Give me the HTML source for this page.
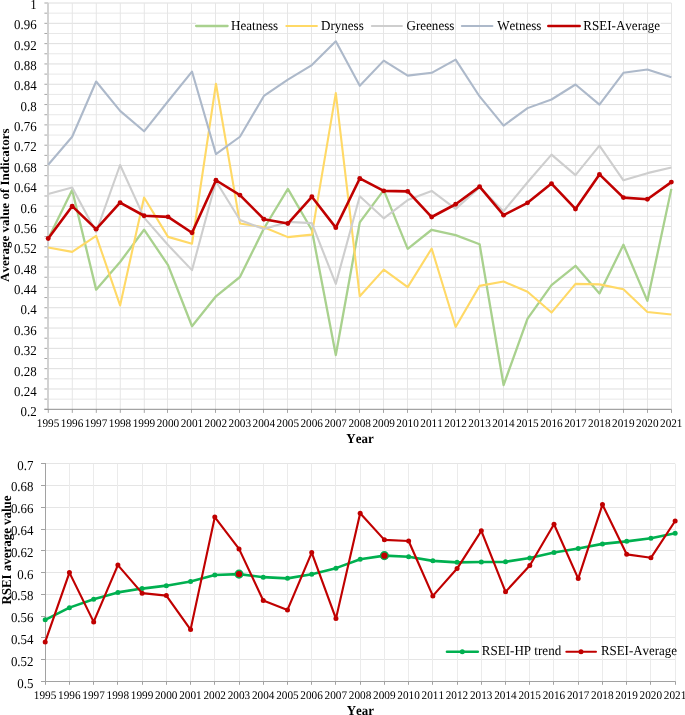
<!DOCTYPE html>
<html lang="en"><head><meta charset="utf-8"><title>RSEI indicators</title>
<style>
html,body{margin:0;padding:0;background:#fff;}
body{width:685px;height:715px;overflow:hidden;}
svg{display:block;}
text{font-family:"Liberation Serif",serif;fill:#000;text-rendering:geometricPrecision;font-kerning:none;}
.tk{font-size:13.6px;text-anchor:end;}
.xl{font-size:11.6px;text-anchor:middle;}
.lg{font-size:13.6px;}
.ttl{font-size:13.6px;font-weight:bold;text-anchor:middle;}
.maj{stroke:#dedede;stroke-width:1;}
.min{stroke:#e8e8e8;stroke-width:1;}
.vg{stroke:#e6e6e6;stroke-width:1;}
.ax{stroke:#a6a6a6;stroke-width:1;}
.axb{stroke:#a2a2a2;stroke-width:1;}
.majb{stroke:#e5e5e5;stroke-width:1;}
.vgb{stroke:#ebebeb;stroke-width:1;}
.ln{fill:none;stroke-linejoin:round;stroke-linecap:butt;}
</style></head><body>
<svg width="685" height="715" viewBox="0 0 685 715">
<rect width="685" height="715" fill="#fff"/>
<g id="top">
<line class="min" x1="48.2" x2="671.35" y1="399.14" y2="399.14"/>
<line class="maj" x1="48.2" x2="671.35" y1="388.99" y2="388.99"/>
<line class="min" x1="48.2" x2="671.35" y1="378.83" y2="378.83"/>
<line class="maj" x1="48.2" x2="671.35" y1="368.67" y2="368.67"/>
<line class="min" x1="48.2" x2="671.35" y1="358.51" y2="358.51"/>
<line class="maj" x1="48.2" x2="671.35" y1="348.35" y2="348.35"/>
<line class="min" x1="48.2" x2="671.35" y1="338.2" y2="338.2"/>
<line class="maj" x1="48.2" x2="671.35" y1="328.04" y2="328.04"/>
<line class="min" x1="48.2" x2="671.35" y1="317.88" y2="317.88"/>
<line class="maj" x1="48.2" x2="671.35" y1="307.72" y2="307.72"/>
<line class="min" x1="48.2" x2="671.35" y1="297.57" y2="297.57"/>
<line class="maj" x1="48.2" x2="671.35" y1="287.41" y2="287.41"/>
<line class="min" x1="48.2" x2="671.35" y1="277.25" y2="277.25"/>
<line class="maj" x1="48.2" x2="671.35" y1="267.1" y2="267.1"/>
<line class="min" x1="48.2" x2="671.35" y1="256.94" y2="256.94"/>
<line class="maj" x1="48.2" x2="671.35" y1="246.78" y2="246.78"/>
<line class="min" x1="48.2" x2="671.35" y1="236.62" y2="236.62"/>
<line class="maj" x1="48.2" x2="671.35" y1="226.46" y2="226.46"/>
<line class="min" x1="48.2" x2="671.35" y1="216.31" y2="216.31"/>
<line class="maj" x1="48.2" x2="671.35" y1="206.15" y2="206.15"/>
<line class="min" x1="48.2" x2="671.35" y1="195.99" y2="195.99"/>
<line class="maj" x1="48.2" x2="671.35" y1="185.83" y2="185.83"/>
<line class="min" x1="48.2" x2="671.35" y1="175.68" y2="175.68"/>
<line class="maj" x1="48.2" x2="671.35" y1="165.52" y2="165.52"/>
<line class="min" x1="48.2" x2="671.35" y1="155.36" y2="155.36"/>
<line class="maj" x1="48.2" x2="671.35" y1="145.21" y2="145.21"/>
<line class="min" x1="48.2" x2="671.35" y1="135.05" y2="135.05"/>
<line class="maj" x1="48.2" x2="671.35" y1="124.89" y2="124.89"/>
<line class="min" x1="48.2" x2="671.35" y1="114.73" y2="114.73"/>
<line class="maj" x1="48.2" x2="671.35" y1="104.57" y2="104.57"/>
<line class="min" x1="48.2" x2="671.35" y1="94.42" y2="94.42"/>
<line class="maj" x1="48.2" x2="671.35" y1="84.26" y2="84.26"/>
<line class="min" x1="48.2" x2="671.35" y1="74.1" y2="74.1"/>
<line class="maj" x1="48.2" x2="671.35" y1="63.94" y2="63.94"/>
<line class="min" x1="48.2" x2="671.35" y1="53.79" y2="53.79"/>
<line class="maj" x1="48.2" x2="671.35" y1="43.63" y2="43.63"/>
<line class="min" x1="48.2" x2="671.35" y1="33.47" y2="33.47"/>
<line class="maj" x1="48.2" x2="671.35" y1="23.32" y2="23.32"/>
<line class="min" x1="48.2" x2="671.35" y1="13.16" y2="13.16"/>
<line class="maj" x1="48.2" x2="671.35" y1="3" y2="3"/>
<rect x="196" y="15.5" width="464.5" height="16.5" fill="#fff"/>
<line class="vg" x1="72.3" x2="72.3" y1="3" y2="409.3"/>
<line class="vg" x1="96.3" x2="96.3" y1="3" y2="409.3"/>
<line class="vg" x1="120.3" x2="120.3" y1="3" y2="409.3"/>
<line class="vg" x1="144.3" x2="144.3" y1="3" y2="409.3"/>
<line class="vg" x1="167.5" x2="167.5" y1="3" y2="409.3"/>
<line class="vg" x1="191.5" x2="191.5" y1="3" y2="409.3"/>
<line class="vg" x1="215.5" x2="215.5" y1="3" y2="409.3"/>
<line class="vg" x1="239.5" x2="239.5" y1="3" y2="409.3"/>
<line class="vg" x1="263.5" x2="263.5" y1="3" y2="409.3"/>
<line class="vg" x1="287.5" x2="287.5" y1="3" y2="409.3"/>
<line class="vg" x1="311.5" x2="311.5" y1="3" y2="409.3"/>
<line class="vg" x1="335.5" x2="335.5" y1="3" y2="409.3"/>
<line class="vg" x1="359.5" x2="359.5" y1="3" y2="409.3"/>
<line class="vg" x1="383.5" x2="383.5" y1="3" y2="409.3"/>
<line class="vg" x1="407.5" x2="407.5" y1="3" y2="409.3"/>
<line class="vg" x1="431.5" x2="431.5" y1="3" y2="409.3"/>
<line class="vg" x1="455.5" x2="455.5" y1="3" y2="409.3"/>
<line class="vg" x1="479.5" x2="479.5" y1="3" y2="409.3"/>
<line class="vg" x1="503.5" x2="503.5" y1="3" y2="409.3"/>
<line class="vg" x1="527.5" x2="527.5" y1="3" y2="409.3"/>
<line class="vg" x1="551.5" x2="551.5" y1="3" y2="409.3"/>
<line class="vg" x1="575.5" x2="575.5" y1="3" y2="409.3"/>
<line class="vg" x1="599.5" x2="599.5" y1="3" y2="409.3"/>
<line class="vg" x1="623.5" x2="623.5" y1="3" y2="409.3"/>
<line class="vg" x1="647.5" x2="647.5" y1="3" y2="409.3"/>
<line class="vg" x1="671.5" x2="671.5" y1="3" y2="409.3"/>
<line class="ax" x1="44.4" x2="48.2" y1="409.3" y2="409.3"/>
<line class="ax" x1="44.4" x2="48.2" y1="399.14" y2="399.14"/>
<line class="ax" x1="44.4" x2="48.2" y1="388.99" y2="388.99"/>
<line class="ax" x1="44.4" x2="48.2" y1="378.83" y2="378.83"/>
<line class="ax" x1="44.4" x2="48.2" y1="368.67" y2="368.67"/>
<line class="ax" x1="44.4" x2="48.2" y1="358.51" y2="358.51"/>
<line class="ax" x1="44.4" x2="48.2" y1="348.35" y2="348.35"/>
<line class="ax" x1="44.4" x2="48.2" y1="338.2" y2="338.2"/>
<line class="ax" x1="44.4" x2="48.2" y1="328.04" y2="328.04"/>
<line class="ax" x1="44.4" x2="48.2" y1="317.88" y2="317.88"/>
<line class="ax" x1="44.4" x2="48.2" y1="307.72" y2="307.72"/>
<line class="ax" x1="44.4" x2="48.2" y1="297.57" y2="297.57"/>
<line class="ax" x1="44.4" x2="48.2" y1="287.41" y2="287.41"/>
<line class="ax" x1="44.4" x2="48.2" y1="277.25" y2="277.25"/>
<line class="ax" x1="44.4" x2="48.2" y1="267.1" y2="267.1"/>
<line class="ax" x1="44.4" x2="48.2" y1="256.94" y2="256.94"/>
<line class="ax" x1="44.4" x2="48.2" y1="246.78" y2="246.78"/>
<line class="ax" x1="44.4" x2="48.2" y1="236.62" y2="236.62"/>
<line class="ax" x1="44.4" x2="48.2" y1="226.46" y2="226.46"/>
<line class="ax" x1="44.4" x2="48.2" y1="216.31" y2="216.31"/>
<line class="ax" x1="44.4" x2="48.2" y1="206.15" y2="206.15"/>
<line class="ax" x1="44.4" x2="48.2" y1="195.99" y2="195.99"/>
<line class="ax" x1="44.4" x2="48.2" y1="185.83" y2="185.83"/>
<line class="ax" x1="44.4" x2="48.2" y1="175.68" y2="175.68"/>
<line class="ax" x1="44.4" x2="48.2" y1="165.52" y2="165.52"/>
<line class="ax" x1="44.4" x2="48.2" y1="155.36" y2="155.36"/>
<line class="ax" x1="44.4" x2="48.2" y1="145.21" y2="145.21"/>
<line class="ax" x1="44.4" x2="48.2" y1="135.05" y2="135.05"/>
<line class="ax" x1="44.4" x2="48.2" y1="124.89" y2="124.89"/>
<line class="ax" x1="44.4" x2="48.2" y1="114.73" y2="114.73"/>
<line class="ax" x1="44.4" x2="48.2" y1="104.57" y2="104.57"/>
<line class="ax" x1="44.4" x2="48.2" y1="94.42" y2="94.42"/>
<line class="ax" x1="44.4" x2="48.2" y1="84.26" y2="84.26"/>
<line class="ax" x1="44.4" x2="48.2" y1="74.1" y2="74.1"/>
<line class="ax" x1="44.4" x2="48.2" y1="63.94" y2="63.94"/>
<line class="ax" x1="44.4" x2="48.2" y1="53.79" y2="53.79"/>
<line class="ax" x1="44.4" x2="48.2" y1="43.63" y2="43.63"/>
<line class="ax" x1="44.4" x2="48.2" y1="33.47" y2="33.47"/>
<line class="ax" x1="44.4" x2="48.2" y1="23.32" y2="23.32"/>
<line class="ax" x1="44.4" x2="48.2" y1="13.16" y2="13.16"/>
<line class="ax" x1="44.4" x2="48.2" y1="3" y2="3"/>
<line class="ax" x1="48.3" x2="48.3" y1="409.3" y2="412.9"/>
<line class="ax" x1="72.3" x2="72.3" y1="409.3" y2="412.9"/>
<line class="ax" x1="96.3" x2="96.3" y1="409.3" y2="412.9"/>
<line class="ax" x1="120.3" x2="120.3" y1="409.3" y2="412.9"/>
<line class="ax" x1="144.3" x2="144.3" y1="409.3" y2="412.9"/>
<line class="ax" x1="167.5" x2="167.5" y1="409.3" y2="412.9"/>
<line class="ax" x1="191.5" x2="191.5" y1="409.3" y2="412.9"/>
<line class="ax" x1="215.5" x2="215.5" y1="409.3" y2="412.9"/>
<line class="ax" x1="239.5" x2="239.5" y1="409.3" y2="412.9"/>
<line class="ax" x1="263.5" x2="263.5" y1="409.3" y2="412.9"/>
<line class="ax" x1="287.5" x2="287.5" y1="409.3" y2="412.9"/>
<line class="ax" x1="311.5" x2="311.5" y1="409.3" y2="412.9"/>
<line class="ax" x1="335.5" x2="335.5" y1="409.3" y2="412.9"/>
<line class="ax" x1="359.5" x2="359.5" y1="409.3" y2="412.9"/>
<line class="ax" x1="383.5" x2="383.5" y1="409.3" y2="412.9"/>
<line class="ax" x1="407.5" x2="407.5" y1="409.3" y2="412.9"/>
<line class="ax" x1="431.5" x2="431.5" y1="409.3" y2="412.9"/>
<line class="ax" x1="455.5" x2="455.5" y1="409.3" y2="412.9"/>
<line class="ax" x1="479.5" x2="479.5" y1="409.3" y2="412.9"/>
<line class="ax" x1="503.5" x2="503.5" y1="409.3" y2="412.9"/>
<line class="ax" x1="527.5" x2="527.5" y1="409.3" y2="412.9"/>
<line class="ax" x1="551.5" x2="551.5" y1="409.3" y2="412.9"/>
<line class="ax" x1="575.5" x2="575.5" y1="409.3" y2="412.9"/>
<line class="ax" x1="599.5" x2="599.5" y1="409.3" y2="412.9"/>
<line class="ax" x1="623.5" x2="623.5" y1="409.3" y2="412.9"/>
<line class="ax" x1="647.5" x2="647.5" y1="409.3" y2="412.9"/>
<line class="ax" x1="671.5" x2="671.5" y1="409.3" y2="412.9"/>
<line x1="48" x2="48" y1="3" y2="409.3" stroke="#d0d0d0" stroke-width="1.9"/>
<line x1="44.4" x2="671.35" y1="409.3" y2="409.3" stroke="#8c8c8c" stroke-width="1"/>
<polyline class="ln" stroke="#a9d18e" stroke-width="2.3" points="48.20,238.65 72.17,190.10 96.13,289.64 120.10,262.02 144.07,229.72 168.04,265.06 192.00,326.26 215.97,296.30 239.94,277.00 263.91,228.50 287.87,188.88 311.84,230.02 335.81,355.06 359.77,222.40 383.74,190.15 407.71,248.81 431.68,229.77 455.64,235.10 479.61,244.24 503.58,385.02 527.55,318.64 551.51,285.12 575.48,265.83 599.45,293.50 623.42,244.75 647.38,300.87 671.35,188.88"/>
<polyline class="ln" stroke="#ffd966" stroke-width="2.1" points="48.20,247.54 72.17,251.86 96.13,235.81 120.10,305.44 144.07,197.52 168.04,236.88 192.00,243.73 215.97,83.75 239.94,223.42 263.91,227.23 287.87,237.13 311.84,234.59 335.81,93.15 359.77,296.30 383.74,269.63 407.71,287.16 431.68,248.56 455.64,327.02 479.61,285.89 503.58,281.57 527.55,291.73 551.51,312.55 575.48,283.85 599.45,284.36 623.42,289.19 647.38,312.04 671.35,314.58"/>
<polyline class="ln" stroke="#cecece" stroke-width="2.1" points="48.20,193.96 72.17,187.56 96.13,232.05 120.10,165.01 144.07,217.58 168.04,245.05 192.00,270.14 215.97,181.26 239.94,220.07 263.91,229.00 287.87,221.89 311.84,223.16 335.81,283.85 359.77,196.25 383.74,218.34 407.71,200.06 431.68,190.91 455.64,208.89 479.61,187.36 503.58,211.23 527.55,182.28 551.51,154.60 575.48,175.17 599.45,145.71 623.42,180.35 647.38,173.14 671.35,167.55"/>
<polyline class="ln" stroke="#adb9ca" stroke-width="2.1" points="48.20,164.76 72.17,136.77 96.13,81.47 120.10,110.92 144.07,131.29 168.04,101.27 192.00,71.56 215.97,154.09 239.94,136.77 263.91,95.94 287.87,79.69 311.84,65.11 335.81,41.34 359.77,85.78 383.74,60.64 407.71,75.63 431.68,72.83 455.64,59.63 479.61,96.45 503.58,125.65 527.55,108.13 551.51,99.50 575.48,84.51 599.45,104.57 623.42,72.83 647.38,69.53 671.35,77.15"/>
<polyline class="ln" stroke="#c00000" stroke-width="2.6" points="48.20,238.50 72.17,206.15 96.13,229.16 120.10,202.65 144.07,215.75 168.04,216.87 192.00,232.76 215.97,180.25 239.94,195.08 263.91,219.20 287.87,223.57 311.84,196.81 335.81,227.63 359.77,178.47 383.74,190.86 407.71,191.42 431.68,217.02 455.64,204.27 479.61,186.65 503.58,215.14 527.55,202.85 551.51,183.60 575.48,208.94 599.45,174.41 623.42,197.62 647.38,199.24 671.35,182.08"/>
<circle cx="48.2" cy="238.5" r="2.45" fill="#c00000"/>
<circle cx="72.17" cy="206.15" r="2.45" fill="#c00000"/>
<circle cx="96.13" cy="229.16" r="2.45" fill="#c00000"/>
<circle cx="120.1" cy="202.65" r="2.45" fill="#c00000"/>
<circle cx="144.07" cy="215.75" r="2.45" fill="#c00000"/>
<circle cx="168.04" cy="216.87" r="2.45" fill="#c00000"/>
<circle cx="192" cy="232.76" r="2.45" fill="#c00000"/>
<circle cx="215.97" cy="180.25" r="2.45" fill="#c00000"/>
<circle cx="239.94" cy="195.08" r="2.45" fill="#c00000"/>
<circle cx="263.91" cy="219.2" r="2.45" fill="#c00000"/>
<circle cx="287.87" cy="223.57" r="2.45" fill="#c00000"/>
<circle cx="311.84" cy="196.81" r="2.45" fill="#c00000"/>
<circle cx="335.81" cy="227.63" r="2.45" fill="#c00000"/>
<circle cx="359.77" cy="178.47" r="2.45" fill="#c00000"/>
<circle cx="383.74" cy="190.86" r="2.45" fill="#c00000"/>
<circle cx="407.71" cy="191.42" r="2.45" fill="#c00000"/>
<circle cx="431.68" cy="217.02" r="2.45" fill="#c00000"/>
<circle cx="455.64" cy="204.27" r="2.45" fill="#c00000"/>
<circle cx="479.61" cy="186.65" r="2.45" fill="#c00000"/>
<circle cx="503.58" cy="215.14" r="2.45" fill="#c00000"/>
<circle cx="527.55" cy="202.85" r="2.45" fill="#c00000"/>
<circle cx="551.51" cy="183.6" r="2.45" fill="#c00000"/>
<circle cx="575.48" cy="208.94" r="2.45" fill="#c00000"/>
<circle cx="599.45" cy="174.41" r="2.45" fill="#c00000"/>
<circle cx="623.42" cy="197.62" r="2.45" fill="#c00000"/>
<circle cx="647.38" cy="199.24" r="2.45" fill="#c00000"/>
<circle cx="671.35" cy="182.08" r="2.45" fill="#c00000"/>
<text class="tk" transform="translate(36.6,416.39) scale(0.95,1)">0.2</text>
<text class="tk" transform="translate(36.6,396.01) scale(0.95,1)">0.24</text>
<text class="tk" transform="translate(36.6,375.63) scale(0.95,1)">0.28</text>
<text class="tk" transform="translate(36.6,355.24) scale(0.95,1)">0.32</text>
<text class="tk" transform="translate(36.6,334.86) scale(0.95,1)">0.36</text>
<text class="tk" transform="translate(36.6,314.48) scale(0.95,1)">0.4</text>
<text class="tk" transform="translate(36.6,294.09) scale(0.95,1)">0.44</text>
<text class="tk" transform="translate(36.6,273.71) scale(0.95,1)">0.48</text>
<text class="tk" transform="translate(36.6,253.33) scale(0.95,1)">0.52</text>
<text class="tk" transform="translate(36.6,232.94) scale(0.95,1)">0.56</text>
<text class="tk" transform="translate(36.6,212.56) scale(0.95,1)">0.6</text>
<text class="tk" transform="translate(36.6,192.18) scale(0.95,1)">0.64</text>
<text class="tk" transform="translate(36.6,171.8) scale(0.95,1)">0.68</text>
<text class="tk" transform="translate(36.6,151.41) scale(0.95,1)">0.72</text>
<text class="tk" transform="translate(36.6,131.03) scale(0.95,1)">0.76</text>
<text class="tk" transform="translate(36.6,110.65) scale(0.95,1)">0.8</text>
<text class="tk" transform="translate(36.6,90.26) scale(0.95,1)">0.84</text>
<text class="tk" transform="translate(36.6,69.88) scale(0.95,1)">0.88</text>
<text class="tk" transform="translate(36.6,49.5) scale(0.95,1)">0.92</text>
<text class="tk" transform="translate(36.6,29.12) scale(0.95,1)">0.96</text>
<text class="tk" transform="translate(36.6,8.73) scale(0.95,1)">1</text>
<text class="xl" transform="translate(48.1,426.7) scale(0.97,1)">1995</text>
<text class="xl" transform="translate(72.07,426.7) scale(0.97,1)">1996</text>
<text class="xl" transform="translate(96.03,426.7) scale(0.97,1)">1997</text>
<text class="xl" transform="translate(120,426.7) scale(0.97,1)">1998</text>
<text class="xl" transform="translate(143.97,426.7) scale(0.97,1)">1999</text>
<text class="xl" transform="translate(167.94,426.7) scale(0.97,1)">2000</text>
<text class="xl" transform="translate(191.9,426.7) scale(0.97,1)">2001</text>
<text class="xl" transform="translate(215.87,426.7) scale(0.97,1)">2002</text>
<text class="xl" transform="translate(239.84,426.7) scale(0.97,1)">2003</text>
<text class="xl" transform="translate(263.81,426.7) scale(0.97,1)">2004</text>
<text class="xl" transform="translate(287.77,426.7) scale(0.97,1)">2005</text>
<text class="xl" transform="translate(311.74,426.7) scale(0.97,1)">2006</text>
<text class="xl" transform="translate(335.71,426.7) scale(0.97,1)">2007</text>
<text class="xl" transform="translate(359.67,426.7) scale(0.97,1)">2008</text>
<text class="xl" transform="translate(383.64,426.7) scale(0.97,1)">2009</text>
<text class="xl" transform="translate(407.61,426.7) scale(0.97,1)">2010</text>
<text class="xl" transform="translate(431.58,426.7) scale(0.97,1)">2011</text>
<text class="xl" transform="translate(455.54,426.7) scale(0.97,1)">2012</text>
<text class="xl" transform="translate(479.51,426.7) scale(0.97,1)">2013</text>
<text class="xl" transform="translate(503.48,426.7) scale(0.97,1)">2014</text>
<text class="xl" transform="translate(527.45,426.7) scale(0.97,1)">2015</text>
<text class="xl" transform="translate(551.41,426.7) scale(0.97,1)">2016</text>
<text class="xl" transform="translate(575.38,426.7) scale(0.97,1)">2017</text>
<text class="xl" transform="translate(599.35,426.7) scale(0.97,1)">2018</text>
<text class="xl" transform="translate(623.32,426.7) scale(0.97,1)">2019</text>
<text class="xl" transform="translate(647.28,426.7) scale(0.97,1)">2020</text>
<text class="xl" transform="translate(671.25,426.7) scale(0.97,1)">2021</text>
<text class="ttl" transform="translate(360,443) scale(0.95,1)">Year</text>
<text class="ttl" style="font-size:12.5px" transform="translate(8.7,205.2) rotate(-90) scale(1.04,1)">Average value of Indicators</text>
<line x1="196.1" x2="227.6" y1="26" y2="26" stroke="#a9d18e" stroke-width="2.3000000000000003" stroke-linecap="round"/>
<text class="lg" transform="translate(231,29.9) scale(0.96,1)">Heatness</text>
<line x1="286.35" x2="316.9" y1="26" y2="26" stroke="#ffd966" stroke-width="2.1" stroke-linecap="round"/>
<text class="lg" transform="translate(321,29.9) scale(0.96,1)">Dryness</text>
<line x1="371.85" x2="401.9" y1="26" y2="26" stroke="#cecece" stroke-width="2.1" stroke-linecap="round"/>
<text class="lg" transform="translate(406.5,29.9) scale(0.96,1)">Greeness</text>
<line x1="461.85" x2="492.4" y1="26" y2="26" stroke="#adb9ca" stroke-width="2.1" stroke-linecap="round"/>
<text class="lg" transform="translate(497.2,29.9) scale(0.96,1)">Wetness</text>
<line x1="548.35" x2="579.65" y1="26" y2="26" stroke="#c00000" stroke-width="2.6" stroke-linecap="round"/>
<text class="lg" transform="translate(583.3,29.9) scale(0.96,1)">RSEI-Average</text>
</g>
<g id="bottom">
<line class="majb" x1="45.2" x2="675.15" y1="659.5" y2="659.5"/>
<line class="majb" x1="45.2" x2="675.15" y1="637.5" y2="637.5"/>
<line class="majb" x1="45.2" x2="675.15" y1="616.5" y2="616.5"/>
<line class="majb" x1="45.2" x2="675.15" y1="594.5" y2="594.5"/>
<line class="majb" x1="45.2" x2="675.15" y1="572.5" y2="572.5"/>
<line class="majb" x1="45.2" x2="675.15" y1="550.5" y2="550.5"/>
<line class="majb" x1="45.2" x2="675.15" y1="529.5" y2="529.5"/>
<line class="majb" x1="45.2" x2="675.15" y1="507.5" y2="507.5"/>
<line class="majb" x1="45.2" x2="675.15" y1="485.5" y2="485.5"/>
<line class="majb" x1="45.2" x2="675.15" y1="463.5" y2="463.5"/>
<rect x="444" y="642" width="234" height="17" fill="#fff"/>
<line class="vgb" x1="69.5" x2="69.5" y1="463.8" y2="681.4"/>
<line class="vgb" x1="93.5" x2="93.5" y1="463.8" y2="681.4"/>
<line class="vgb" x1="117.5" x2="117.5" y1="463.8" y2="681.4"/>
<line class="vgb" x1="142.5" x2="142.5" y1="463.8" y2="681.4"/>
<line class="vgb" x1="166.5" x2="166.5" y1="463.8" y2="681.4"/>
<line class="vgb" x1="190.5" x2="190.5" y1="463.8" y2="681.4"/>
<line class="vgb" x1="214.5" x2="214.5" y1="463.8" y2="681.4"/>
<line class="vgb" x1="239.5" x2="239.5" y1="463.8" y2="681.4"/>
<line class="vgb" x1="263.5" x2="263.5" y1="463.8" y2="681.4"/>
<line class="vgb" x1="287.5" x2="287.5" y1="463.8" y2="681.4"/>
<line class="vgb" x1="311.5" x2="311.5" y1="463.8" y2="681.4"/>
<line class="vgb" x1="335.5" x2="335.5" y1="463.8" y2="681.4"/>
<line class="vgb" x1="360.5" x2="360.5" y1="463.8" y2="681.4"/>
<line class="vgb" x1="384.5" x2="384.5" y1="463.8" y2="681.4"/>
<line class="vgb" x1="408.5" x2="408.5" y1="463.8" y2="681.4"/>
<line class="vgb" x1="432.5" x2="432.5" y1="463.8" y2="681.4"/>
<line class="vgb" x1="457.5" x2="457.5" y1="463.8" y2="681.4"/>
<line class="vgb" x1="481.5" x2="481.5" y1="463.8" y2="681.4"/>
<line class="vgb" x1="505.5" x2="505.5" y1="463.8" y2="681.4"/>
<line class="vgb" x1="529.5" x2="529.5" y1="463.8" y2="681.4"/>
<line class="vgb" x1="553.5" x2="553.5" y1="463.8" y2="681.4"/>
<line class="vgb" x1="578.5" x2="578.5" y1="463.8" y2="681.4"/>
<line class="vgb" x1="602.5" x2="602.5" y1="463.8" y2="681.4"/>
<line class="vgb" x1="626.5" x2="626.5" y1="463.8" y2="681.4"/>
<line class="vgb" x1="650.5" x2="650.5" y1="463.8" y2="681.4"/>
<line class="vgb" x1="675.5" x2="675.5" y1="463.8" y2="681.4"/>
<line class="axb" x1="41" x2="45.2" y1="681.5" y2="681.5"/>
<line class="axb" x1="41" x2="45.2" y1="659.5" y2="659.5"/>
<line class="axb" x1="41" x2="45.2" y1="637.5" y2="637.5"/>
<line class="axb" x1="41" x2="45.2" y1="616.5" y2="616.5"/>
<line class="axb" x1="41" x2="45.2" y1="594.5" y2="594.5"/>
<line class="axb" x1="41" x2="45.2" y1="572.5" y2="572.5"/>
<line class="axb" x1="41" x2="45.2" y1="550.5" y2="550.5"/>
<line class="axb" x1="41" x2="45.2" y1="529.5" y2="529.5"/>
<line class="axb" x1="41" x2="45.2" y1="507.5" y2="507.5"/>
<line class="axb" x1="41" x2="45.2" y1="485.5" y2="485.5"/>
<line class="axb" x1="41" x2="45.2" y1="463.5" y2="463.5"/>
<line class="axb" x1="45.5" x2="45.5" y1="681.4" y2="684.8"/>
<line class="axb" x1="69.5" x2="69.5" y1="681.4" y2="684.8"/>
<line class="axb" x1="93.5" x2="93.5" y1="681.4" y2="684.8"/>
<line class="axb" x1="117.5" x2="117.5" y1="681.4" y2="684.8"/>
<line class="axb" x1="142.5" x2="142.5" y1="681.4" y2="684.8"/>
<line class="axb" x1="166.5" x2="166.5" y1="681.4" y2="684.8"/>
<line class="axb" x1="190.5" x2="190.5" y1="681.4" y2="684.8"/>
<line class="axb" x1="214.5" x2="214.5" y1="681.4" y2="684.8"/>
<line class="axb" x1="239.5" x2="239.5" y1="681.4" y2="684.8"/>
<line class="axb" x1="263.5" x2="263.5" y1="681.4" y2="684.8"/>
<line class="axb" x1="287.5" x2="287.5" y1="681.4" y2="684.8"/>
<line class="axb" x1="311.5" x2="311.5" y1="681.4" y2="684.8"/>
<line class="axb" x1="335.5" x2="335.5" y1="681.4" y2="684.8"/>
<line class="axb" x1="360.5" x2="360.5" y1="681.4" y2="684.8"/>
<line class="axb" x1="384.5" x2="384.5" y1="681.4" y2="684.8"/>
<line class="axb" x1="408.5" x2="408.5" y1="681.4" y2="684.8"/>
<line class="axb" x1="432.5" x2="432.5" y1="681.4" y2="684.8"/>
<line class="axb" x1="457.5" x2="457.5" y1="681.4" y2="684.8"/>
<line class="axb" x1="481.5" x2="481.5" y1="681.4" y2="684.8"/>
<line class="axb" x1="505.5" x2="505.5" y1="681.4" y2="684.8"/>
<line class="axb" x1="529.5" x2="529.5" y1="681.4" y2="684.8"/>
<line class="axb" x1="553.5" x2="553.5" y1="681.4" y2="684.8"/>
<line class="axb" x1="578.5" x2="578.5" y1="681.4" y2="684.8"/>
<line class="axb" x1="602.5" x2="602.5" y1="681.4" y2="684.8"/>
<line class="axb" x1="626.5" x2="626.5" y1="681.4" y2="684.8"/>
<line class="axb" x1="650.5" x2="650.5" y1="681.4" y2="684.8"/>
<line class="axb" x1="675.5" x2="675.5" y1="681.4" y2="684.8"/>
<line x1="45.5" x2="45.5" y1="463" y2="682" stroke="#a2a2a2" stroke-width="1"/>
<line x1="41.2" x2="675.55" y1="681.5" y2="681.5" stroke="#a2a2a2" stroke-width="1"/>
<polyline class="ln" stroke="#00b050" stroke-width="2.6" points="45.20,619.82 69.43,607.63 93.66,599.15 117.89,592.40 142.12,588.59 166.34,585.66 190.57,581.41 214.80,574.99 239.03,574.12 263.26,577.17 287.49,578.37 311.72,574.34 335.95,568.14 360.17,559.33 384.40,555.63 408.63,556.82 432.86,560.85 457.09,562.37 481.32,562.05 505.55,561.83 529.78,557.91 554.01,552.58 578.23,548.56 602.46,543.88 626.69,541.37 650.92,538.33 675.15,533.32"/>
<circle cx="45.2" cy="619.82" r="2.5" fill="#00b050"/>
<circle cx="69.43" cy="607.63" r="2.5" fill="#00b050"/>
<circle cx="93.66" cy="599.15" r="2.5" fill="#00b050"/>
<circle cx="117.89" cy="592.4" r="2.5" fill="#00b050"/>
<circle cx="142.12" cy="588.59" r="2.5" fill="#00b050"/>
<circle cx="166.34" cy="585.66" r="2.5" fill="#00b050"/>
<circle cx="190.57" cy="581.41" r="2.5" fill="#00b050"/>
<circle cx="214.8" cy="574.99" r="2.5" fill="#00b050"/>
<circle cx="239.03" cy="574.12" r="2.5" fill="#00b050"/>
<circle cx="263.26" cy="577.17" r="2.5" fill="#00b050"/>
<circle cx="287.49" cy="578.37" r="2.5" fill="#00b050"/>
<circle cx="311.72" cy="574.34" r="2.5" fill="#00b050"/>
<circle cx="335.95" cy="568.14" r="2.5" fill="#00b050"/>
<circle cx="360.17" cy="559.33" r="2.5" fill="#00b050"/>
<circle cx="384.4" cy="555.63" r="2.5" fill="#00b050"/>
<circle cx="408.63" cy="556.82" r="2.5" fill="#00b050"/>
<circle cx="432.86" cy="560.85" r="2.5" fill="#00b050"/>
<circle cx="457.09" cy="562.37" r="2.5" fill="#00b050"/>
<circle cx="481.32" cy="562.05" r="2.5" fill="#00b050"/>
<circle cx="505.55" cy="561.83" r="2.5" fill="#00b050"/>
<circle cx="529.78" cy="557.91" r="2.5" fill="#00b050"/>
<circle cx="554.01" cy="552.58" r="2.5" fill="#00b050"/>
<circle cx="578.23" cy="548.56" r="2.5" fill="#00b050"/>
<circle cx="602.46" cy="543.88" r="2.5" fill="#00b050"/>
<circle cx="626.69" cy="541.37" r="2.5" fill="#00b050"/>
<circle cx="650.92" cy="538.33" r="2.5" fill="#00b050"/>
<circle cx="675.15" cy="533.32" r="2.5" fill="#00b050"/>
<polyline class="ln" stroke="#c00000" stroke-width="2.15" points="45.20,641.91 69.43,572.60 93.66,621.89 117.89,565.09 142.12,593.16 166.34,595.56 190.57,629.61 214.80,517.11 239.03,548.88 263.26,600.56 287.49,609.92 311.72,552.58 335.95,618.62 360.17,513.30 384.40,539.85 408.63,541.05 432.86,595.88 457.09,568.57 481.32,530.82 505.55,591.86 529.78,565.53 554.01,524.29 578.23,578.58 602.46,504.60 626.69,554.32 650.92,557.80 675.15,521.03"/>
<circle cx="45.2" cy="641.91" r="2.5" fill="#c00000"/>
<circle cx="69.43" cy="572.6" r="2.5" fill="#c00000"/>
<circle cx="93.66" cy="621.89" r="2.5" fill="#c00000"/>
<circle cx="117.89" cy="565.09" r="2.5" fill="#c00000"/>
<circle cx="142.12" cy="593.16" r="2.5" fill="#c00000"/>
<circle cx="166.34" cy="595.56" r="2.5" fill="#c00000"/>
<circle cx="190.57" cy="629.61" r="2.5" fill="#c00000"/>
<circle cx="214.8" cy="517.11" r="2.5" fill="#c00000"/>
<circle cx="239.03" cy="548.88" r="2.5" fill="#c00000"/>
<circle cx="263.26" cy="600.56" r="2.5" fill="#c00000"/>
<circle cx="287.49" cy="609.92" r="2.5" fill="#c00000"/>
<circle cx="311.72" cy="552.58" r="2.5" fill="#c00000"/>
<circle cx="335.95" cy="618.62" r="2.5" fill="#c00000"/>
<circle cx="360.17" cy="513.3" r="2.5" fill="#c00000"/>
<circle cx="384.4" cy="539.85" r="2.5" fill="#c00000"/>
<circle cx="408.63" cy="541.05" r="2.5" fill="#c00000"/>
<circle cx="432.86" cy="595.88" r="2.5" fill="#c00000"/>
<circle cx="457.09" cy="568.57" r="2.5" fill="#c00000"/>
<circle cx="481.32" cy="530.82" r="2.5" fill="#c00000"/>
<circle cx="505.55" cy="591.86" r="2.5" fill="#c00000"/>
<circle cx="529.78" cy="565.53" r="2.5" fill="#c00000"/>
<circle cx="554.01" cy="524.29" r="2.5" fill="#c00000"/>
<circle cx="578.23" cy="578.58" r="2.5" fill="#c00000"/>
<circle cx="602.46" cy="504.6" r="2.5" fill="#c00000"/>
<circle cx="626.69" cy="554.32" r="2.5" fill="#c00000"/>
<circle cx="650.92" cy="557.8" r="2.5" fill="#c00000"/>
<circle cx="675.15" cy="521.03" r="2.5" fill="#c00000"/>
<circle cx="239.03" cy="574.12" r="3.85" fill="#c00000" stroke="#00b050" stroke-width="1.4"/>
<circle cx="384.4" cy="555.63" r="3.85" fill="#c00000" stroke="#00b050" stroke-width="1.4"/>
<text class="tk" transform="translate(33.5,687.5) scale(0.95,1)">0.5</text>
<text class="tk" transform="translate(33.5,665.71) scale(0.95,1)">0.52</text>
<text class="tk" transform="translate(33.5,643.92) scale(0.95,1)">0.54</text>
<text class="tk" transform="translate(33.5,622.13) scale(0.95,1)">0.56</text>
<text class="tk" transform="translate(33.5,600.34) scale(0.95,1)">0.58</text>
<text class="tk" transform="translate(33.5,578.55) scale(0.95,1)">0.6</text>
<text class="tk" transform="translate(33.5,556.76) scale(0.95,1)">0.62</text>
<text class="tk" transform="translate(33.5,534.97) scale(0.95,1)">0.64</text>
<text class="tk" transform="translate(33.5,513.18) scale(0.95,1)">0.66</text>
<text class="tk" transform="translate(33.5,491.39) scale(0.95,1)">0.68</text>
<text class="tk" transform="translate(33.5,469.6) scale(0.95,1)">0.7</text>
<text class="xl" transform="translate(45.1,698.6) scale(0.97,1)">1995</text>
<text class="xl" transform="translate(69.33,698.6) scale(0.97,1)">1996</text>
<text class="xl" transform="translate(93.56,698.6) scale(0.97,1)">1997</text>
<text class="xl" transform="translate(117.79,698.6) scale(0.97,1)">1998</text>
<text class="xl" transform="translate(142.02,698.6) scale(0.97,1)">1999</text>
<text class="xl" transform="translate(166.24,698.6) scale(0.97,1)">2000</text>
<text class="xl" transform="translate(190.47,698.6) scale(0.97,1)">2001</text>
<text class="xl" transform="translate(214.7,698.6) scale(0.97,1)">2002</text>
<text class="xl" transform="translate(238.93,698.6) scale(0.97,1)">2003</text>
<text class="xl" transform="translate(263.16,698.6) scale(0.97,1)">2004</text>
<text class="xl" transform="translate(287.39,698.6) scale(0.97,1)">2005</text>
<text class="xl" transform="translate(311.62,698.6) scale(0.97,1)">2006</text>
<text class="xl" transform="translate(335.85,698.6) scale(0.97,1)">2007</text>
<text class="xl" transform="translate(360.07,698.6) scale(0.97,1)">2008</text>
<text class="xl" transform="translate(384.3,698.6) scale(0.97,1)">2009</text>
<text class="xl" transform="translate(408.53,698.6) scale(0.97,1)">2010</text>
<text class="xl" transform="translate(432.76,698.6) scale(0.97,1)">2011</text>
<text class="xl" transform="translate(456.99,698.6) scale(0.97,1)">2012</text>
<text class="xl" transform="translate(481.22,698.6) scale(0.97,1)">2013</text>
<text class="xl" transform="translate(505.45,698.6) scale(0.97,1)">2014</text>
<text class="xl" transform="translate(529.68,698.6) scale(0.97,1)">2015</text>
<text class="xl" transform="translate(553.91,698.6) scale(0.97,1)">2016</text>
<text class="xl" transform="translate(578.13,698.6) scale(0.97,1)">2017</text>
<text class="xl" transform="translate(602.36,698.6) scale(0.97,1)">2018</text>
<text class="xl" transform="translate(626.59,698.6) scale(0.97,1)">2019</text>
<text class="xl" transform="translate(650.82,698.6) scale(0.97,1)">2020</text>
<text class="xl" transform="translate(675.05,698.6) scale(0.97,1)">2021</text>
<text class="ttl" transform="translate(360.4,714.8) scale(0.95,1)">Year</text>
<text class="ttl" transform="translate(11.3,550) rotate(-90) scale(0.95,1)">RSEI average value</text>
<line x1="447" x2="477.8" y1="651.7" y2="651.7" stroke="#00b050" stroke-width="2.6" stroke-linecap="round"/>
<circle cx="462.3" cy="651.7" r="2.5" fill="#00b050"/>
<text class="lg" transform="translate(481.8,655.3) scale(0.96,1)">RSEI-HP trend</text>
<line x1="566.3" x2="596" y1="651.7" y2="651.7" stroke="#c00000" stroke-width="2.0" stroke-linecap="round"/>
<circle cx="581" cy="651.7" r="2.5" fill="#c00000"/>
<text class="lg" transform="translate(600.9,655.3) scale(0.95,1)">RSEI-Average</text>
</g>
</svg>
</body></html>
